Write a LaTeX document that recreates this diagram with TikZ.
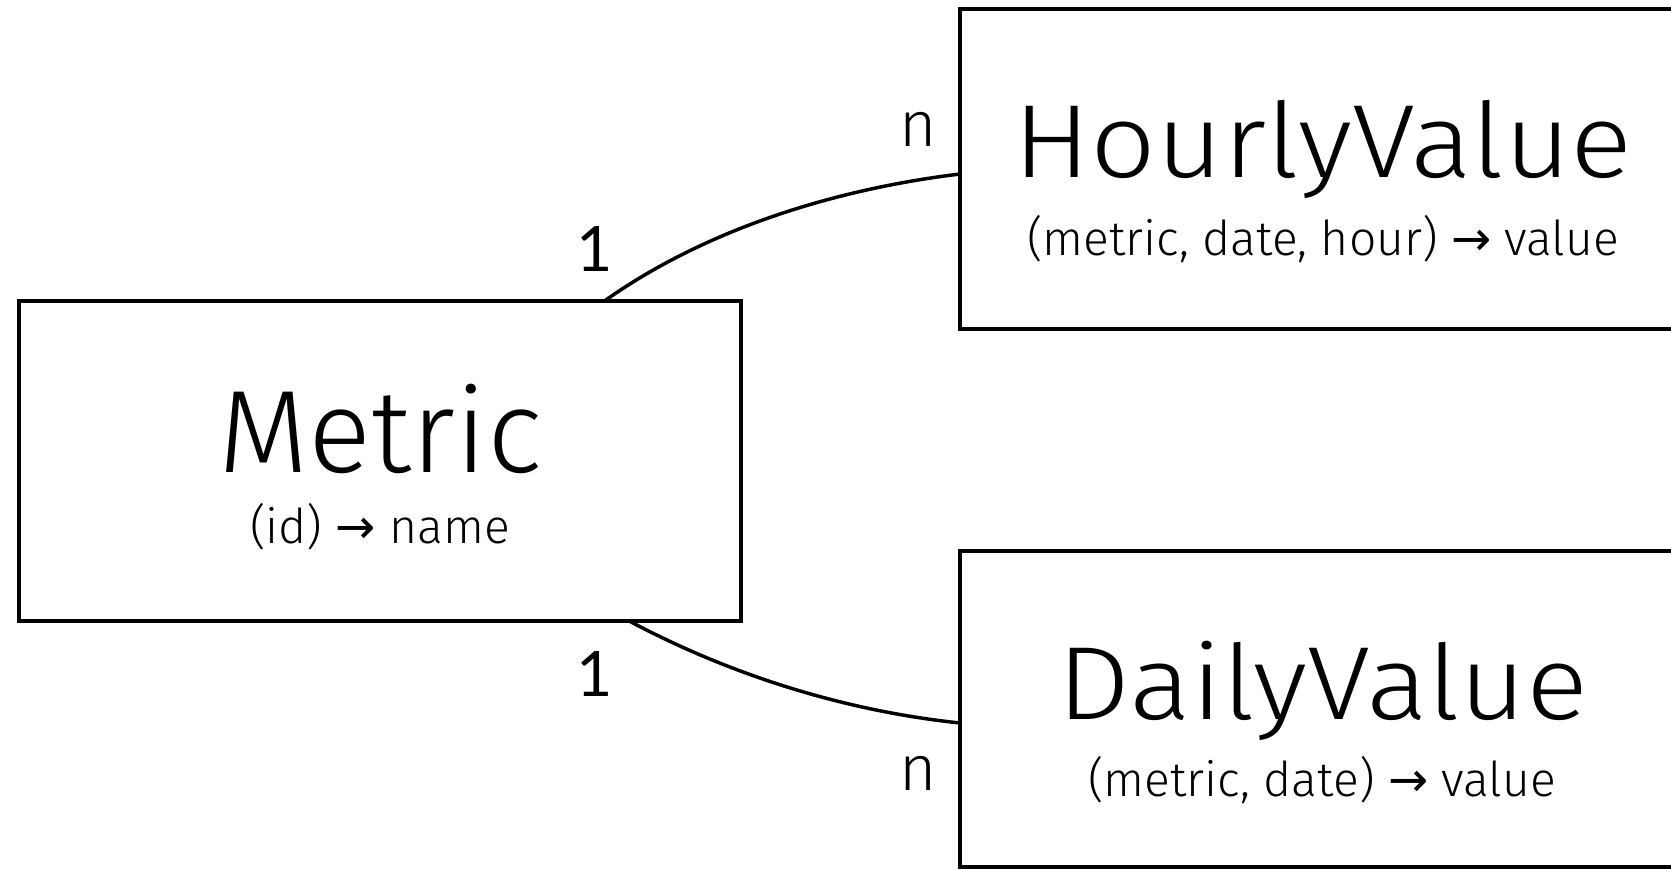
\documentclass[tikz,border=0pt]{standalone}
\usepackage{fontspec}
\setmainfont{Fira Sans}[UprightFont=* Light]
\newfontfamily\widefont{Fira Sans}[UprightFont=* Light, FakeStretch=1.11]
\newfontfamily\arrowfont{DejaVu Sans}
\newfontfamily\digitfont{Lato}
\usetikzlibrary{calc}

% key arrow between the attribute groups
\newcommand{\keyarrow}{{\arrowfont →}}

\tikzset{
  entity/.style={draw=black, line width=3pt, rectangle, inner sep=0pt, outer sep=0pt},
  title/.style={anchor=base, inner sep=0pt},
  keyline/.style={anchor=base, inner sep=0pt, font=\fontsize{36}{40}\selectfont},
  card/.style={anchor=base, inner sep=0pt, font=\fontsize{48}{52}\selectfont},
  link/.style={line width=2.6pt, black}
}

\begin{document}
\begin{tikzpicture}[x=0.75pt, y=-0.75pt]
  \useasboundingbox (0,0) rectangle (1671,870);
  \clip (0,0) rectangle (1671,870);

  % entity boxes
  \node[entity, minimum width=541.1pt, minimum height=240.6pt] (metric) at (380,461) {};
  \node[entity, minimum width=544.4pt, minimum height=240.6pt] (hourly) at (1323,169) {};
  \node[entity, minimum width=544.4pt, minimum height=237.4pt] (daily) at (1323,709) {};

  % entity names and keys
  \node[title, font=\fontsize{88}{92}\selectfont] (metricname) at (380.5,472) {Metric};
  \node[keyline] (metrickey) at (380,543.5) {(id) \keyarrow{} name};
  \node[title, font=\widefont\fontsize{78}{82}\selectfont] (hourlyname) at (1323,178) {HourlyValue};
  \node[keyline] (hourlykey) at (1323,256) {(metric, date, hour) \keyarrow{} value};
  \node[title, font=\widefont\fontsize{78}{82}\selectfont] (dailyname) at (1323,719.4) {DailyValue};
  \node[keyline] (dailykey) at (1322,796) {(metric, date) \keyarrow{} value};

  % relationships
  \draw[link] ($(metric.north)+(225,0)$) .. controls +(102,-72) and +(-124,15) .. ($(hourly.west)+(0,5)$);
  \draw[link] ($(metric.south)+(250,0)$) .. controls +(101.5,54) and +(-114.4,-12) .. ($(daily.west)+(0,14)$);

  % cardinalities
  \node[card, font=\digitfont\fontsize{47}{52}\selectfont] (c1top) at (594.5,272) {1};
  \node[card] (cntop) at (918,147) {n};
  \node[card, font=\digitfont\fontsize{47}{52}\selectfont] (c1bot) at (594.5,696) {1};
  \node[card] (cnbot) at (918,790) {n};
\end{tikzpicture}
\end{document}
